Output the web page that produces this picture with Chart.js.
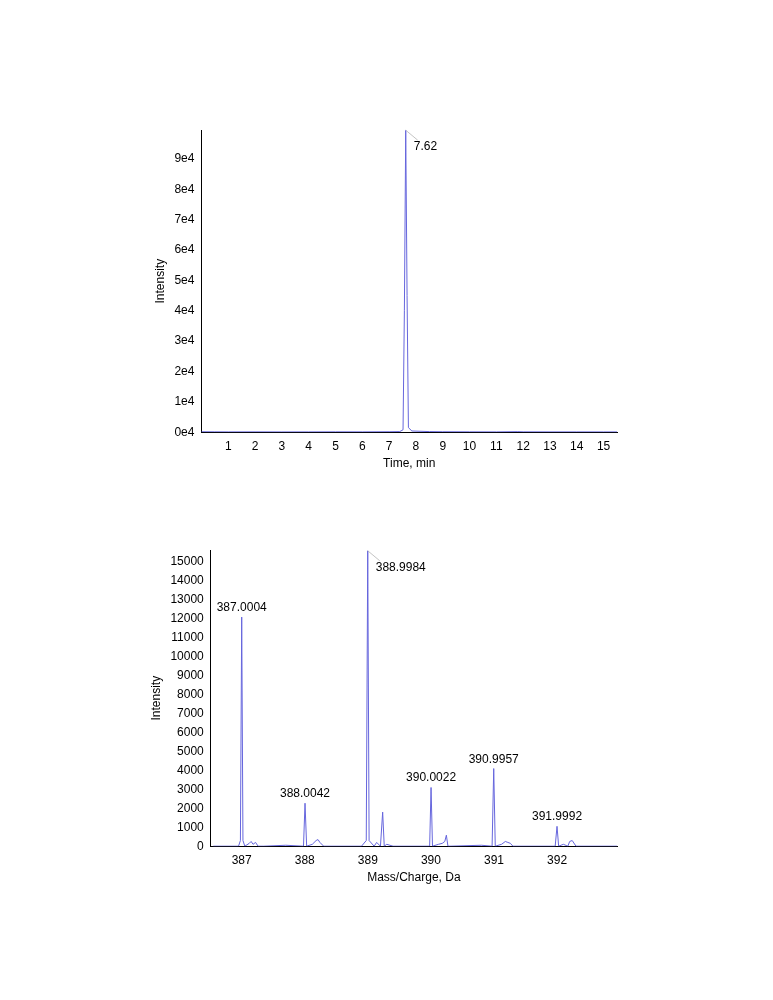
<!DOCTYPE html>
<html>
<head>
<meta charset="utf-8">
<script src="https://cdn.jsdelivr.net/npm/chart.js@4"></script>
<style>
  body { margin: 0; background: #fff; }
  .box { position: absolute; }
</style>
</head>
<body>
<div class="box" style="left:149px;top:120px;width:476px;height:351px;"><canvas id="xic"></canvas></div>
<div class="box" style="left:145px;top:540px;width:480px;height:345px;"><canvas id="ms"></canvas></div>
<script>
// Chromatogram (time, min / intensity)
const tempo = [0, 0.5, 1, 2, 3, 4, 5, 6, 7, 7.4, 7.52, 7.57, 7.62, 7.67, 7.72, 7.85, 8.5, 9, 10, 11, 11.8, 12, 13, 14, 15, 15.5];
const intensidadeTempo = [150, 120, 100, 110, 90, 100, 120, 110, 150, 200, 800, 40000, 99500, 45000, 1500, 400, 200, 150, 120, 100, 180, 120, 100, 100, 90, 90];
const ticksTempo = [1, 2, 3, 4, 5, 6, 7, 8, 9, 10, 11, 12, 13, 14, 15];
const ticksIntTempo = [0, 10000, 20000, 30000, 40000, 50000, 60000, 70000, 80000, 90000];

// Mass spectrum (m/z / intensity)
const mz = [386.55, 386.95, 386.98, 387.0004, 387.02, 387.05, 387.12, 387.15, 387.18, 387.22, 387.26, 387.35, 387.7, 387.98, 388.0042, 388.03, 388.12, 388.18, 388.21, 388.24, 388.3, 388.9, 388.975, 388.9984, 389.02, 389.1, 389.14, 389.2, 389.235, 389.26, 389.3, 389.4, 389.98, 390.0022, 390.025, 390.12, 390.18, 390.22, 390.245, 390.27, 390.3, 390.8, 390.97, 390.9957, 391.02, 391.12, 391.18, 391.22, 391.26, 391.3, 391.97, 391.9992, 392.025, 392.1, 392.17, 392.2, 392.24, 392.3, 392.95];
const intensidadeMz = [0, 0, 300, 12100, 300, 0, 150, 250, 100, 200, 0, 0, 50, 0, 2270, 0, 100, 300, 350, 200, 0, 0, 300, 15600, 300, 0, 200, 0, 1800, 0, 100, 0, 0, 3100, 0, 100, 150, 250, 580, 0, 0, 50, 0, 4100, 0, 100, 250, 200, 150, 0, 0, 1050, 0, 100, 0, 250, 300, 0, 0];
const picos = [387.0004, 388.0042, 388.9984, 390.0022, 390.9957, 391.9992];
const alturasPicos = [12100, 2270, 15600, 3100, 4100, 1050];
const ticksMz = [387, 388, 389, 390, 391, 392];
const ticksIntMz = [0, 1000, 2000, 3000, 4000, 5000, 6000, 7000, 8000, 9000, 10000, 11000, 12000, 13000, 14000, 15000];

const cor = '#6666dd';
Chart.defaults.font.family = 'Liberation Sans, Arial, sans-serif';
Chart.defaults.font.size = 12;
Chart.defaults.color = '#000';

// Plugin para rótulos dos picos
const rotulos = {
  id: 'rotulos',
  afterDatasetsDraw(chart, args, opts) {
    const ctx = chart.ctx, xs = chart.scales.x, ys = chart.scales.y;
    ctx.save();
    ctx.font = '12px Liberation Sans, Arial, sans-serif';
    ctx.fillStyle = '#000';
    opts.xs.forEach((v, i) => {
      const px = xs.getPixelForValue(v);
      let py = ys.getPixelForValue(Math.min(opts.ys[i], ys.max));
      if (opts.ys[i] >= ys.max * 0.97) {
        ctx.strokeStyle = '#aaa'; ctx.lineWidth = 0.7;
        ctx.beginPath(); ctx.moveTo(px, py); ctx.lineTo(px + 12, py + 10); ctx.stroke();
        ctx.textAlign = 'left';
        ctx.fillText(opts.texts[i], px + 8, py + 20);
      } else {
        ctx.textAlign = 'center';
        ctx.fillText(opts.texts[i], px, py - 6);
      }
    });
    ctx.restore();
  }
};

function eixoY(max, valores, cb) {
  return {
    min: 0, max: max,
    grid: { display: false, drawTicks: true, tickLength: 4, tickColor: '#000' },
    border: { color: '#000' },
    ticks: { callback: cb, autoSkip: false },
    title: { display: true, text: 'Intensity', font: { size: 12 }, padding: 4 },
    afterBuildTicks: ax => { ax.ticks = valores.map(v => ({ value: v })); }
  };
}

new Chart(document.getElementById('xic'), {
  type: 'line',
  data: { datasets: [{ data: tempo.map((t, i) => ({ x: t, y: intensidadeTempo[i] })), borderColor: cor, borderWidth: 1, pointRadius: 0, tension: 0 }] },
  options: {
    responsive: true, maintainAspectRatio: false, animation: false,
    layout: { padding: { right: 8 } },
    plugins: {
      legend: { display: false }, tooltip: { enabled: false },
      rotulos: { xs: [7.62], ys: [99500], texts: ['7.62'] }
    },
    scales: {
      x: {
        type: 'linear', min: 0, max: 15.5,
        grid: { display: false, tickLength: 4, tickColor: '#000' }, border: { color: '#000' },
        afterBuildTicks: ax => { ax.ticks = ticksTempo.map(v => ({ value: v })); },
        ticks: { autoSkip: false, maxRotation: 0 },
        title: { display: true, text: 'Time, min', font: { size: 12 }, padding: 0 }
      },
      y: eixoY(99500, ticksIntTempo, v => (v / 10000) + 'e4')
    }
  },
  plugins: [rotulos]
});

new Chart(document.getElementById('ms'), {
  type: 'line',
  data: { datasets: [{ data: mz.map((m, i) => ({ x: m, y: intensidadeMz[i] })), borderColor: cor, borderWidth: 1, pointRadius: 0, tension: 0 }] },
  options: {
    responsive: true, maintainAspectRatio: false, animation: false,
    layout: { padding: { right: 8 } },
    plugins: {
      legend: { display: false }, tooltip: { enabled: false },
      rotulos: { xs: picos, ys: alturasPicos, texts: picos.map(p => p.toFixed(4)) }
    },
    scales: {
      x: {
        type: 'linear', min: 386.51, max: 392.95,
        grid: { display: false, tickLength: 4, tickColor: '#000' }, border: { color: '#000' },
        afterBuildTicks: ax => { ax.ticks = ticksMz.map(v => ({ value: v })); },
        ticks: { autoSkip: false, maxRotation: 0 },
        title: { display: true, text: 'Mass/Charge, Da', font: { size: 12 }, padding: 0 }
      },
      y: eixoY(15630, ticksIntMz, v => v)
    }
  },
  plugins: [rotulos]
});
</script>
</body>
</html>
